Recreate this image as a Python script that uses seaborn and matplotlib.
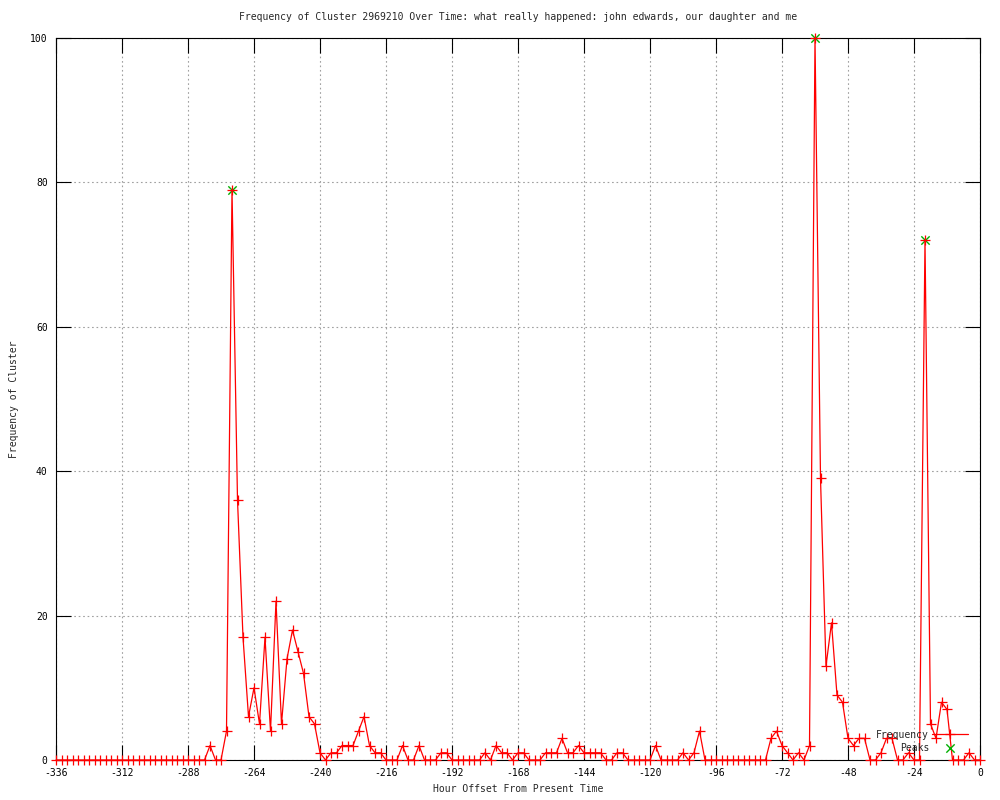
import matplotlib
matplotlib.use("Agg")
import matplotlib.pyplot as plt
import seaborn as sns
import pandas as pd

# ---- data ----
hours = list(range(-336, 1, 2))
frequency = [
    0, 0, 0, 0, 0, 0, 0, 0, 0, 0, 0, 0,            # -336 .. -314
    0, 0, 0, 0, 0, 0, 0, 0, 0, 0, 0, 0,            # -312 .. -290
    0, 0, 0, 0, 2, 0, 0, 4, 79, 36, 17, 6,          # -288 .. -266
    10, 5, 17, 4, 22, 5, 14, 18, 15, 12, 6, 5,      # -264 .. -242
    1, 0, 1, 1, 2, 2, 2, 4, 6, 2, 1, 1,             # -240 .. -218
    0, 0, 0, 2, 0, 0, 2, 0, 0, 0, 1, 1,             # -216 .. -194
    0, 0, 0, 0, 0, 0, 1, 0, 2, 1, 1, 0,             # -192 .. -170
    1, 1, 0, 0, 0, 1, 1, 1, 3, 1, 1, 2,             # -168 .. -146
    1, 1, 1, 1, 0, 0, 1, 1, 0, 0, 0, 0,             # -144 .. -122
    0, 2, 0, 0, 0, 0, 1, 0, 1, 4, 0, 0,             # -120 .. -98
    0, 0, 0, 0, 0, 0, 0, 0, 0, 0, 3, 4,             # -96 .. -74
    2, 1, 0, 1, 0, 2, 100, 39, 13, 19, 9, 8,        # -72 .. -50
    3, 2, 3, 3, 0, 0, 1, 3, 3, 0, 0, 1,             # -48 .. -26
    0, 0, 72, 5, 3, 8, 7, 0, 0, 0, 1, 0,            # -24 .. -2
    0,                                              # 0
]
peak_hours = [-272, -60, -20]
peak_values = [79, 100, 72]
x_ticks = [-336, -312, -288, -264, -240, -216, -192, -168, -144, -120, -96, -72, -48, -24, 0]
y_ticks = [0, 20, 40, 60, 80, 100]
title = "Frequency of Cluster 2969210 Over Time: what really happened: john edwards, our daughter and me"

df = pd.DataFrame({"hour": hours, "freq": frequency})
peaks = pd.DataFrame({"hour": peak_hours, "freq": peak_values})

sns.set_style("white")
plt.rcParams["font.family"] = ["DejaVu Sans Mono"]
plt.rcParams["axes.unicode_minus"] = False
plt.rcParams["font.size"] = 7

fig = plt.figure(figsize=(10, 8), dpi=100)
ax = fig.add_axes([0.056, 0.05, 0.924, 0.9025])

sns.scatterplot(data=peaks, x="hour", y="freq", ax=ax, marker="x", color="#00b000",
                s=36, linewidth=1.0, label="Peaks", zorder=3, clip_on=False)
sns.lineplot(data=df, x="hour", y="freq", ax=ax, color="red", linewidth=0.9,
             marker="+", markersize=7, markeredgewidth=0.9, markeredgecolor="red",
             label="Frequency", zorder=4, clip_on=False)

ax.set_xlim(-336, 0)
ax.set_ylim(0, 100)
ax.set_xticks(x_ticks)
ax.set_yticks(y_ticks)
ax.grid(True, color="#a0a0a0", linestyle=(0, (1.5, 2.5)), linewidth=0.8)
ax.set_axisbelow(True)
for s in ax.spines.values():
    s.set_color("black")
    s.set_linewidth(0.8)
    s.set_visible(True)
ax.tick_params(axis="both", which="major", direction="in", length=11, width=0.8,
               top=True, right=True, bottom=True, left=True, labelsize=7, colors="black")
ax.tick_params(axis="x", pad=6)
ax.tick_params(axis="y", pad=6)

ax.set_xlabel("Hour Offset From Present Time", fontsize=7, labelpad=4)
ax.set_ylabel("Frequency of Cluster", fontsize=7, labelpad=8)
ax.set_title(title, fontsize=7, pad=13)

handles, labels = ax.get_legend_handles_labels()
order = [labels.index("Frequency"), labels.index("Peaks")]
ax.legend([handles[i] for i in order], [labels[i] for i in order],
          loc="lower right", bbox_to_anchor=(0.987, 0.010), frameon=False,
          markerfirst=False, handlelength=3.7, handletextpad=0.3, labelspacing=0.3,
          borderpad=0, borderaxespad=0, fontsize=7, scatterpoints=1)

fig.savefig("out.png", dpi=100)
